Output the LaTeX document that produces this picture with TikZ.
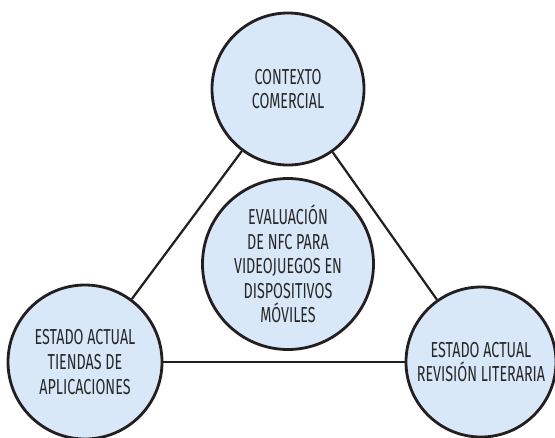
\documentclass[tikz,border=0pt]{standalone}
\usepackage{fontspec}
\newfontfamily\labelfont{Fira Sans}[FakeStretch=0.66]
\definecolor{circfill}{RGB}{216,232,248}
\definecolor{inkline}{RGB}{35,31,32}
\definecolor{inktext}{RGB}{40,40,40}
\tikzset{
  topic/.style={circle, draw=inkline, line width=2.4pt, fill=circfill, align=center,
    text=inktext, inner sep=0pt, font=\labelfont\fontsize{18.5}{21}\selectfont},
  link/.style={draw=inkline, line width=1.9pt}
}
\begin{document}
\begin{tikzpicture}[x=0.03cm, y=-0.03cm]
    \useasboundingbox (0,0) rectangle (555,437);

    % Outer topics
    \node[topic, minimum size=152*0.03cm] (comercial) at (288,89) {CONTEXTO\\COMERCIAL};
    \node[topic, minimum size=154*0.03cm] (tiendas) at (85,362) {ESTADO ACTUAL\\TIENDAS DE\\APLICACIONES};
    \node[topic, minimum size=150*0.03cm] (revision) at (481,362) {ESTADO ACTUAL\\REVISIÓN LITERARIA};

    % Central topic
    \node[topic, minimum size=171*0.03cm] (nfc) at (288,264)
        {EVALUACIÓN\\DE NFC PARA\\VIDEOJUEGOS EN\\DISPOSITIVOS\\MÓVILES};

    % Triangle
    \draw[link] (comercial) -- (tiendas);
    \draw[link] (comercial) -- (revision);
    \draw[link] (tiendas) -- (revision);
\end{tikzpicture}
\end{document}
